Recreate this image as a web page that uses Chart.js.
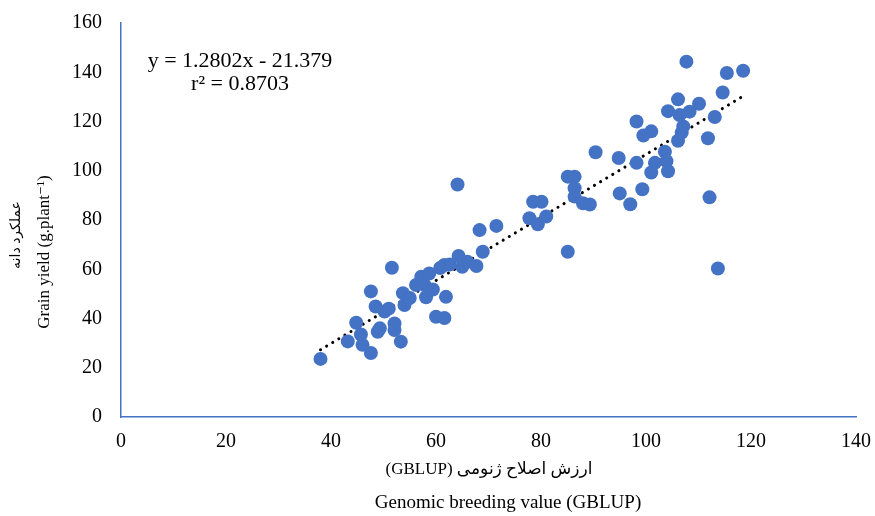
<!DOCTYPE html>
<html>
<head>
<meta charset="utf-8">
<script src="https://cdn.jsdelivr.net/npm/chart.js@4/dist/chart.umd.min.js"></script>
<style>
  html, body { margin: 0; padding: 0; background: #fff; }
  #wrap { width: 875px; height: 516px; }
</style>
</head>
<body>
<div id="wrap"><canvas id="chart"></canvas></div>
<script>
/* GBLUP vs grain yield scatter with linear trendline */
const SERIF = "'Liberation Serif', 'DejaVu Sans', serif";
const BLUE = "#4472C4";

const xValues = [
  38.0, 43.2, 44.8, 45.7, 46.0, 47.6, 47.6, 48.5, 48.9, 49.3, 50.2, 51.0, 51.6, 52.1, 52.1,
  53.3, 53.7, 54.0, 55.0, 56.2, 57.2, 57.8, 58.1, 58.7, 59.4, 60.0, 60.8, 61.6, 61.9, 61.6,
  62.6, 64.1, 64.3, 65.0, 66.0, 67.7, 68.3, 68.9, 71.5,
  77.8, 78.5, 79.4, 80.1, 81.0, 85.1, 85.1, 86.4, 86.4, 86.4, 88.0, 89.3, 90.4, 94.8, 95.0,
  97.0, 98.2, 98.2, 99.3, 99.5, 101.0, 101.0, 101.7, 103.6, 103.9, 104.2, 104.2, 106.1, 106.1,
  106.4, 107.1, 106.8, 107.7, 108.3, 110.1, 111.8, 112.1, 113.1, 113.7, 114.6, 115.4, 118.5
];
const yValues = [
  23.6, 30.7, 38.3, 33.5, 29.3, 26.0, 51.0, 44.9, 34.6, 36.0, 42.8, 44.0, 60.6, 38.0, 35.3,
  30.6, 50.3, 45.5, 48.3, 53.6, 57.0, 53.6, 48.6, 58.3, 51.8, 40.7, 60.5, 40.2, 48.8, 61.7,
  61.9, 94.4, 65.4, 61.0, 63.0, 61.3, 75.9, 67.1, 77.6,
  80.7, 87.4, 78.3, 87.4, 81.4, 97.6, 67.1, 97.6, 92.9, 89.5, 86.8, 86.3, 107.5, 105.2, 90.8,
  86.4, 120.0, 103.2, 92.5, 114.3, 116.0, 99.3, 103.2, 107.7, 103.9, 124.2, 99.8, 129.0, 112.2,
  122.6, 118.0, 115.5, 144.3, 124.0, 127.2, 113.2, 89.2, 121.8, 60.3, 131.8, 139.7, 140.6
];

// trendline end points
const trendX = [38.0, 118.5];
const trendY = [27.3, 130.3];

const xTicks = [0, 20, 40, 60, 80, 100, 120, 140];
const yTicks = [0, 20, 40, 60, 80, 100, 120, 140, 160];

const equationText = ["y = 1.2802x - 21.379", "r\u00B2 = 0.8703"];
const xTitle = ["\u0627\u0631\u0632\u0634 \u0627\u0635\u0644\u0627\u062D \u0698\u0646\u0648\u0645\u06CC (GBLUP)", "Genomic breeding value (GBLUP)"];
const yTitle = ["\u0639\u0645\u0644\u06A9\u0631\u062F \u062F\u0627\u0646\u0647", "Grain yield (g.plant\u207B\u00B9)"];

const points = xValues.map((x, i) => ({ x, y: yValues[i] }));
const trend = trendX.map((x, i) => ({ x, y: trendY[i] }));

/* ── text overlay: equation and axis titles ── */
const textPlugin = {
  id: "texts",
  afterDraw(chart) {
    const c = chart.ctx;
    c.save();
    c.fillStyle = "#000";
    c.textBaseline = "middle";
    c.textAlign = "center";

    // equation box
    c.font = "22px " + SERIF;
    c.fillText(equationText[0], 240, 61);
    c.fillText(equationText[1], 240, 84);

    // x titles
    c.direction = "rtl";
    c.font = "17px " + SERIF;
    c.fillText(xTitle[0], 489, 470);
    c.direction = "ltr";
    c.font = "19px " + SERIF;
    c.fillText(xTitle[1], 508, 503);

    // y titles (rotated)
    c.save();
    c.translate(16, 235);
    c.rotate(-Math.PI / 2);
    c.direction = "rtl";
    c.font = "14px " + SERIF;
    c.fillText(yTitle[0], 0, 0);
    c.restore();
    c.translate(45, 252);
    c.rotate(-Math.PI / 2);
    c.font = "17px " + SERIF;
    c.fillText(yTitle[1], 0, 0);
    c.restore();
  }
};

new Chart(document.getElementById("chart"), {
  type: "scatter",
  data: {
    datasets: [
      {
        label: "Grain yield",
        data: points,
        backgroundColor: BLUE,
        borderWidth: 0,
        pointRadius: 7,
        pointHoverRadius: 7
      },
      {
        type: "line",
        label: "Linear",
        data: trend,
        borderColor: "#000",
        borderWidth: 3,
        borderDash: [0.1, 7],
        borderCapStyle: "round",
        pointRadius: 0,
        fill: false
      }
    ]
  },
  options: {
    responsive: true, maintainAspectRatio: false,
    animation: false,
    layout: { padding: { top: 23, right: 19, left: 0, bottom: 0 } },
    plugins: { legend: { display: false }, tooltip: { enabled: false } },
    scales: {
      x: {
        type: "linear", min: 0, max: 140,
        afterBuildTicks: s => { s.ticks = xTicks.map(v => ({ value: v })); },
        afterFit: s => { s.height = 99; s.paddingLeft = 0; s.paddingRight = 0; },
        grid: { display: false, drawTicks: false },
        border: { display: true, color: BLUE, width: 1.5 },
        ticks: { color: "#000", padding: 13, font: { family: SERIF, size: 20 } }
      },
      y: {
        type: "linear", min: 0, max: 160,
        afterBuildTicks: s => { s.ticks = yTicks.map(v => ({ value: v })); },
        afterFit: s => { s.width = 121; s.paddingTop = 0; s.paddingBottom = 0; },
        grid: { display: false, drawTicks: false },
        border: { display: true, color: BLUE, width: 1.5 },
        ticks: { color: "#000", padding: 19, font: { family: SERIF, size: 20 } }
      }
    }
  },
  plugins: [textPlugin]
});
</script>
</body>
</html>
